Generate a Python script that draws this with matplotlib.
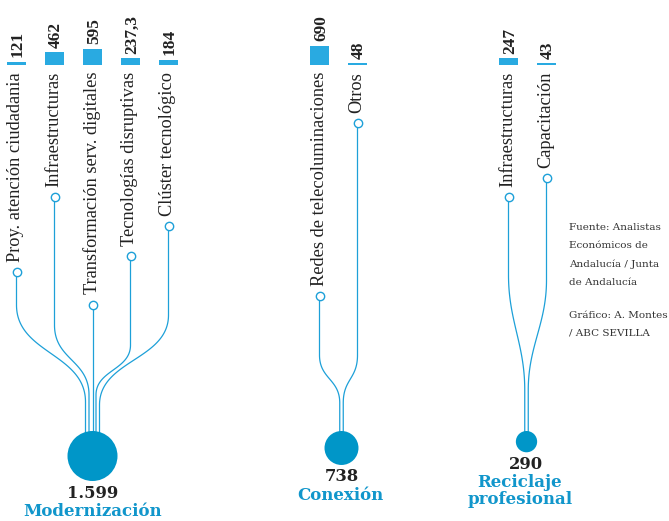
import numpy as np
import matplotlib
matplotlib.use("Agg")
import matplotlib.pyplot as plt
from matplotlib.patches import Circle

# ---------------- data ----------------
group_names = ["Modernización", "Conexión", "Reciclaje\nprofesional"]
group_totals = [1599, 738, 290]
group_total_labels = ["1.599", "738", "290"]

mod_labels = ["Proy. atención ciudadania", "Infraestructuras",
              "Transformación serv. digitales", "Tecnologías disruptivas",
              "Clúster tecnológico"]
mod_values = [121, 462, 595, 237.3, 184]
mod_value_labels = ["121", "462", "595", "237,3", "184"]

con_labels = ["Redes de telecoluminaciones", "Otros"]
con_values = [690, 48]
con_value_labels = ["690", "48"]

rec_labels = ["Infraestructuras", "Capacitación"]
rec_values = [247, 43]
rec_value_labels = ["247", "43"]

source_lines = ["Fuente: Analistas", "Económicos de", "Andalucía / Junta", "de Andalucía"]
credit_lines = ["Gráfico: A. Montes", "/ ABC SEVILLA"]

# ---------------- layout / style ----------------
W, H = 669, 521
BAR_C = "#29aae1"
LINE_C = "#1da0d8"
BIG_C = "#0096c8"
TITLE_C = "#1196cb"
NUM_C = "#222222"

groups = [
    dict(labels=mod_labels, values=mod_values, vlabels=mod_value_labels,
         xs=[16.5, 54.5, 92.5, 130.5, 168.5], cx=92.5, title_x=92.5,
         ys0=[305, 325, 330, 345, 315], ys1=[402, 395, 395, 395, 405], k=0.5),
    dict(labels=con_labels, values=con_values, vlabels=con_value_labels,
         xs=[319.5, 357.5], cx=341.5, title_x=340.5,
         ys0=[355, 355], ys1=[403, 403], k=0.5),
    dict(labels=rec_labels, values=rec_values, vlabels=rec_value_labels,
         xs=[508.5, 546.5], cx=526.5, title_x=520,
         ys0=[275, 280], ys1=[390, 390], k=0.4),
]

BAR_BASE = 65
BAR_W = 19
BAR_SCALE = 16.5 / 595
LABEL_TOP = 72
CIRCLE_TOP = 431
R_MAX = 25.0
END_SPACING = 3.5

fig = plt.figure(figsize=(W / 100, H / 100), dpi=100)
ax = fig.add_axes([0, 0, 1, 1])
ax.set_xlim(0, W)
ax.set_ylim(H, 0)
ax.axis("off")

label_font = dict(family="Liberation Serif", size=13.2, color="#222222")
value_font = dict(family="Liberation Serif", weight="bold", size=12.4, color="#222222")

inv = ax.transData.inverted()

for gi, g in enumerate(groups):
    xs = np.array(g["xs"])
    vals = np.array(g["values"], dtype=float)
    # bars (growing upward from base)
    ax.bar(xs, -np.maximum(vals * BAR_SCALE, 1.6), bottom=BAR_BASE, width=BAR_W,
           color=BAR_C, zorder=3)
    # value labels
    for x, v, vl in zip(xs, vals, g["vlabels"]):
        ax.text(x + 1.5, BAR_BASE - max(v * BAR_SCALE, 1.6) - 4.5, vl, rotation=90,
                ha="center", va="bottom", **value_font)
    # category labels
    texts = []
    for x, lab in zip(xs, g["labels"]):
        t = ax.text(x - 0.5, LABEL_TOP, lab, rotation=90, ha="center", va="top", **label_font)
        texts.append(t)
    fig.canvas.draw()
    renderer = fig.canvas.get_renderer()
    # big circle
    total = group_totals[gi]
    r = R_MAX * np.sqrt(total / group_totals[0])
    cy = CIRCLE_TOP + r
    ax.add_patch(Circle((g["cx"], cy), r, color=BIG_C, zorder=4, lw=0))
    n = len(xs)
    ends = g["cx"] + (np.arange(n) - (n - 1) / 2) * END_SPACING
    k = g["k"]
    for i, (x, t) in enumerate(zip(xs, texts)):
        bb = t.get_window_extent(renderer)
        y_txt_end = inv.transform((0, bb.y0))[1]
        y_dot = y_txt_end + 10
        x1 = ends[i]
        if abs(x1 - x) < 0.01:
            ax.plot([x, x], [y_dot, CIRCLE_TOP + 4], color=LINE_C, lw=0.9, zorder=2)
        else:
            y0, y1 = max(g["ys0"][i], y_dot + 5), g["ys1"][i]
            tt = np.linspace(0, 1, 80)
            c0 = (x, y0)
            c1 = (x, y0 + k * (y1 - y0))
            c2 = (x1, y1 - k * (y1 - y0))
            c3 = (x1, y1)
            bx = ((1 - tt) ** 3) * c0[0] + 3 * ((1 - tt) ** 2) * tt * c1[0] + 3 * (1 - tt) * tt ** 2 * c2[0] + tt ** 3 * c3[0]
            by = ((1 - tt) ** 3) * c0[1] + 3 * ((1 - tt) ** 2) * tt * c1[1] + 3 * (1 - tt) * tt ** 2 * c2[1] + tt ** 3 * c3[1]
            px = np.concatenate([[x], bx, [x1]])
            py = np.concatenate([[y_dot], by, [CIRCLE_TOP + 4]])
            ax.plot(px, py, color=LINE_C, lw=0.9, zorder=2, solid_capstyle="butt")
        ax.scatter([x], [y_dot], s=36, facecolor="white", edgecolor=LINE_C, linewidths=1.0, zorder=5)
    # totals and titles
    ny = cy + r + 12
    ax.text(g["cx"], ny, group_total_labels[gi], ha="center", va="center",
            family="DejaVu Serif", weight="bold", size=11.8, color=NUM_C)
    ax.text(g["title_x"], ny + 10, group_names[gi], ha="center", va="top",
            family="DejaVu Serif", weight="bold", size=12, color=TITLE_C, linespacing=1.0)

src_font = dict(family="DejaVu Serif", size=7.5, color="#333333", ha="left", va="center")
for j, line in enumerate(source_lines):
    ax.text(569, 227 + j * 18.5, line, **src_font)
for j, line in enumerate(credit_lines):
    ax.text(569, 315 + j * 18.5, line, **src_font)

fig.savefig("out.png", dpi=100)
